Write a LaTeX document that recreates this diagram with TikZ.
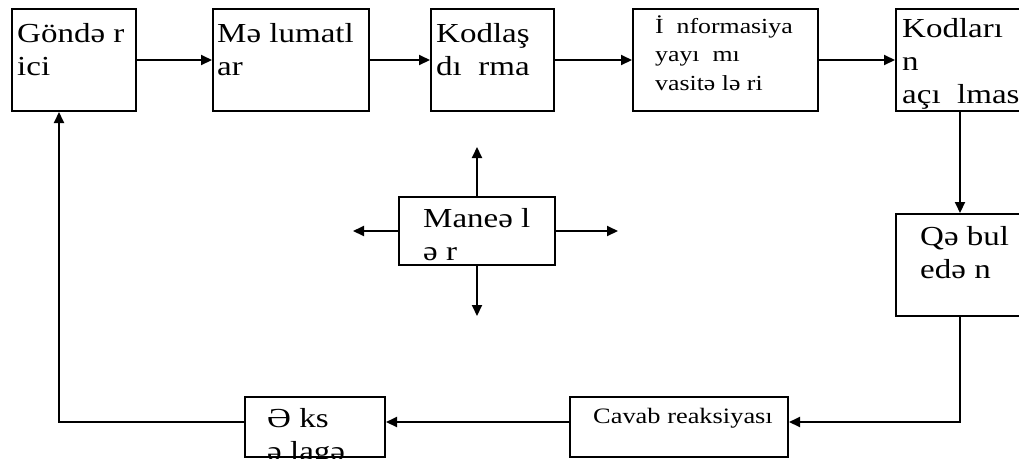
\documentclass[tikz,border=0pt]{standalone}
\usepackage{fontspec}
\setmainfont{Liberation Serif}[FakeStretch=1.2]
\usetikzlibrary{arrows.meta}
\newcommand\boxlines[1]{\begin{tabular}[t]{@{}l@{}}#1\end{tabular}}
\begin{document}
\begin{tikzpicture}[x=1pt,y=-1pt,
  box/.style={draw, line width=2pt, inner sep=0pt, minimum width=#1},
  lbl/.style={anchor=base west, inner sep=0pt, font=\fontsize{27.5}{33}\selectfont},
  slbl/.style={anchor=base west, inner sep=0pt, font=\fontsize{21.5}{28.5}\selectfont},
  arr/.style={line width=2pt, -{Triangle[length=11pt,width=10pt]}},
  ln/.style={line width=2pt}]
\useasboundingbox (0,0) rectangle (1019,459);
% boxes
\node[box=124, minimum height=102] (b1) at (74,60) {};
\node[box=156, minimum height=102] (b2) at (291,60) {};
\node[box=123, minimum height=102] (b3) at (492.5,60) {};
\node[box=185, minimum height=102] (b4) at (725.5,60) {};
\node[box=128, minimum height=102] (b5) at (960,60) {};
\node[box=128, minimum height=102] (qb) at (960,265) {};
\node[box=156, minimum height=68] (m) at (477,231) {};
\node[box=218, minimum height=60] (cv) at (679,427) {};
\node[box=140, minimum height=60] (eks) at (315,427) {};
% texts
\node[lbl] (t1) at (17,42) {\boxlines{Göndə r\\ici}};
\node[lbl] (t2) at (217,42) {\boxlines{Mə lumatl\\ar}};
\node[lbl] (t3) at (436,42) {\boxlines{Kodlaş\\dı\ \ rma}};
\node[slbl] (t4) at (655,33) {\boxlines{İ\ \ nformasiya\\yayı\ \ mı\\vasitə lə ri}};
\node[lbl] (t5) at (902,37) {\boxlines{Kodları\\n\\açı\ \ lmas}};
\node[lbl] (tq) at (920,245) {\boxlines{Qə bul\\edə n}};
\node[lbl] (tm) at (423,227) {\boxlines{Maneə l\\ə r}};
\node[slbl, font=\fontsize{22}{28}\selectfont] (tc) at (593,423) {Cavab reaksiyası};
\begin{scope}
\clip (eks.south west) rectangle (eks.north east);
\node[lbl] (te) at (267,427) {\boxlines{Ə ks\\ə lagə}};
\end{scope}
% connectors top row
\draw[arr] (b1.east) -- (b2.west);
\draw[arr] (b2.east) -- (b3.west);
\draw[arr] (b3.east) -- (b4.west);
\draw[arr] (b4.east) -- (b5.west);
\draw[arr] (b5.south) -- (qb.north);
% feedback loop
\coordinate (c1) at (960,422);
\coordinate (c2) at (59,422);
\draw[arr] (qb.south) -- (c1) -- (c1 -| cv.east);
\draw[arr] (cv.west |- c1) -- (eks.east |- c1);
\draw[arr] (eks.west |- c2) -- (c2) -- (c2 |- b1.south);
% noise arrows
\coordinate (mu) at (477,147);
\coordinate (md) at (477,316);
\coordinate (ml) at (353,231);
\coordinate (mr) at (618,231);
\draw[arr] (m.north) -- (mu);
\draw[arr] (m.south) -- (md);
\draw[arr] (m.west) -- (ml);
\draw[arr] (m.east) -- (mr);
\end{tikzpicture}
\end{document}
